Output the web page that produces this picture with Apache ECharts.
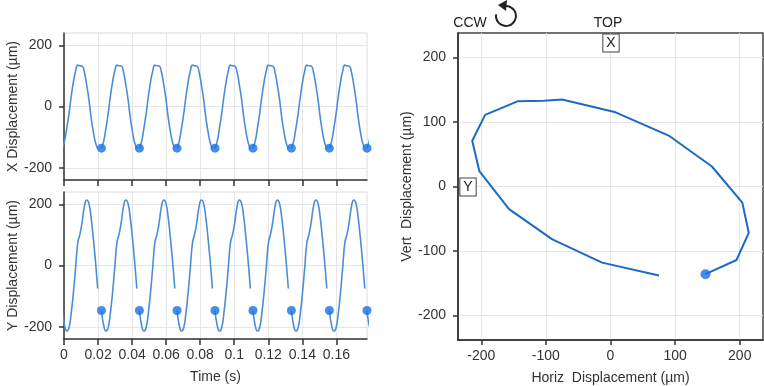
<!DOCTYPE html>
<html><head><meta charset="utf-8">
<script src="https://cdn.jsdelivr.net/npm/echarts@6/dist/echarts.min.js"></script>
<style>html,body{margin:0;padding:0;background:#fff}#c{width:764px;height:386px}</style>
</head><body><div id="c"></div>
<script>
// Once-per-rev marker times (s), where each revolution's record starts
const revStart = [-0.001, 0.022, 0.0443, 0.0664, 0.0887, 0.111, 0.1336, 0.1559, 0.178];
// Sample interval within a revolution (s)
const sampleDt = 0.0013;
// One revolution of samples (µm)
const revX = [-136, -114, -72, -25, 31, 79, 115, 135, 133, 132, 111, 71, 24, -35, -82, -118, -138];
const revY = [-147, -195, -214, -204, -157, -90, -8, 75, 103, 144, 194, 214, 203, 157, 90, 13, -75];
// Orbit (µm)
const orbitH = [147, 195, 214, 204, 157, 90, 8, -75, -103, -144, -194, -214, -203, -157, -90, -13, 75];
const orbitV = [-136, -114, -72, -25, 31, 79, 115, 135, 133, 132, 111, 71, 24, -35, -82, -118, -138];
// Tick labels
const timeTicks = [0, 0.02, 0.04, 0.06, 0.08, 0.1, 0.12, 0.14, 0.16];
const dispTicks = [-200, 0, 200];
const orbitTicks = [-200, -100, 0, 100, 200];

const FONT = 'Arial, "Liberation Sans", sans-serif';
const TXT = '#333';
const AX = '#333';
const SPLIT = '#e6e6e6';
const LINE_C = '#4a8fd6';
const DOT_C = '#1670e6';

const chart = echarts.init(document.getElementById('c'), null, {renderer: 'canvas'});

function timeAxis(gi, showLabels) {
  return {
    type: 'value', gridIndex: gi, min: 0, max: 0.178,
    name: showLabels ? 'Time (s)' : '', nameLocation: 'middle', nameGap: 31,
    nameTextStyle: {fontSize: 14, color: TXT, fontFamily: FONT},
    axisLine: {show: true, onZero: false, lineStyle: {color: AX, width: 1.5}},
    axisTick: {show: true, customValues: timeTicks, length: 6, lineStyle: {color: AX, width: 1.5}},
    axisLabel: {show: showLabels, customValues: timeTicks, fontSize: 14, color: TXT, fontFamily: FONT, margin: 9,
      formatter: v => String(+(+v).toFixed(2))},
    splitLine: {show: true, lineStyle: {color: SPLIT, width: 1}}
  };
}
function dispAxis(gi, name) {
  return {
    type: 'value', gridIndex: gi, min: -240, max: 240,
    name: name, nameLocation: 'middle', nameGap: 44,
    nameTextStyle: {fontSize: 14, color: TXT, fontFamily: FONT},
    axisLine: {show: true, onZero: false, lineStyle: {color: AX, width: 1.5}},
    axisTick: {show: true, customValues: dispTicks, length: 5, lineStyle: {color: AX, width: 1.5}},
    axisLabel: {customValues: dispTicks, fontSize: 14, color: TXT, fontFamily: FONT, margin: 12},
    splitLine: {show: true, lineStyle: {color: SPLIT, width: 1}}
  };
}

const series = [];
revStart.forEach(t0 => {
  series.push({type: 'line', xAxisIndex: 0, yAxisIndex: 0, smooth: 0.5, showSymbol: false, silent: true,
    lineStyle: {color: LINE_C, width: 1.6}, data: revX.map((v, i) => [t0 + i * sampleDt, v])});
  series.push({type: 'line', xAxisIndex: 1, yAxisIndex: 1, smooth: 0.5, showSymbol: false, silent: true,
    lineStyle: {color: LINE_C, width: 1.6}, data: revY.map((v, i) => [t0 + i * sampleDt, v])});
});
const marks = revStart.filter(t => t >= 0);
series.push({type: 'scatter', xAxisIndex: 0, yAxisIndex: 0, symbolSize: 9, clip: false, z: 5,
  itemStyle: {color: DOT_C}, data: marks.map(t => [t, revX[0]])});
series.push({type: 'scatter', xAxisIndex: 1, yAxisIndex: 1, symbolSize: 9, clip: false, z: 5,
  itemStyle: {color: DOT_C}, data: marks.map(t => [t, revY[0]])});
series.push({type: 'line', xAxisIndex: 2, yAxisIndex: 2, smooth: false, showSymbol: false, silent: true,
  lineStyle: {color: '#1a6bc6', width: 2}, data: orbitH.map((h, i) => [h, orbitV[i]])});
series.push({type: 'scatter', xAxisIndex: 2, yAxisIndex: 2, symbolSize: 10, z: 5,
  itemStyle: {color: DOT_C}, data: [[orbitH[0], orbitV[0]]]});

const option = {
  animation: false,
  backgroundColor: '#fff',
  grid: [
    {left: 64, top: 33, width: 303, height: 147, show: true, borderColor: '#dcdcdc', borderWidth: 1, outerBoundsMode: 'none'},
    {left: 64, top: 192, width: 303, height: 147, show: true, borderColor: '#dcdcdc', borderWidth: 1, outerBoundsMode: 'none'},
    {left: 458, top: 33, width: 305, height: 307, show: true, borderColor: '#444', borderWidth: 1.5, outerBoundsMode: 'none'}
  ],
  xAxis: [
    timeAxis(0, false),
    timeAxis(1, true),
    {
      type: 'value', gridIndex: 2, min: -236, max: 236,
      name: 'Horiz  Displacement (µm)', nameLocation: 'middle', nameGap: 31,
      nameTextStyle: {fontSize: 14, color: TXT, fontFamily: FONT},
      axisLine: {show: true, onZero: false, lineStyle: {color: AX, width: 1.5}},
      axisTick: {show: true, customValues: orbitTicks, length: 5, lineStyle: {color: AX, width: 1.5}},
      axisLabel: {customValues: orbitTicks, fontSize: 14, color: TXT, fontFamily: FONT, margin: 9},
      splitLine: {show: true, lineStyle: {color: SPLIT, width: 1}}
    }
  ],
  yAxis: [
    dispAxis(0, 'X Displacement (µm)'),
    dispAxis(1, 'Y Displacement (µm)'),
    {
      type: 'value', gridIndex: 2, min: -238, max: 238,
      name: 'Vert  Displacement (µm)', nameLocation: 'middle', nameGap: 43,
      nameTextStyle: {fontSize: 14, color: TXT, fontFamily: FONT},
      axisLine: {show: true, onZero: false, lineStyle: {color: AX, width: 1.5}},
      axisTick: {show: true, customValues: orbitTicks, length: 5, lineStyle: {color: AX, width: 1.5}},
      axisLabel: {customValues: orbitTicks, fontSize: 14, color: TXT, fontFamily: FONT, margin: 12},
      splitLine: {show: true, lineStyle: {color: SPLIT, width: 1}}
    }
  ],
  series: series,
  graphic: [
    {type: 'text', x: 470, y: 23, z: 10, style: {text: 'CCW', fontSize: 14, fontFamily: FONT, fill: '#222', align: 'center', verticalAlign: 'middle'}},
    {type: 'arc', z: 10, shape: {cx: 506, cy: 16, r: 10, startAngle: -1.85, endAngle: 3.3, clockwise: true},
      style: {stroke: '#222', lineWidth: 2, fill: null}},
    {type: 'polygon', z: 10, shape: {points: [[498, 5], [507, 0], [506, 11]]}, style: {fill: '#222'}},
    {type: 'text', x: 608, y: 23, z: 10, style: {text: 'TOP', fontSize: 14, fontFamily: FONT, fill: '#222', align: 'center', verticalAlign: 'middle'}},
    {type: 'text', x: 611, y: 43, z: 10, style: {text: 'X', fontSize: 14, fontFamily: FONT, fill: '#222', align: 'center', verticalAlign: 'middle',
      backgroundColor: '#fff', borderColor: '#444', borderWidth: 1, padding: [1, 3, 0, 3], lineHeight: 16}},
    {type: 'text', x: 468, y: 187, z: 10, style: {text: 'Y', fontSize: 14, fontFamily: FONT, fill: '#222', align: 'center', verticalAlign: 'middle',
      backgroundColor: '#fff', borderColor: '#444', borderWidth: 1, padding: [1, 3, 0, 3], lineHeight: 16}}
  ]
};
chart.setOption(option);
</script>
</body></html>
